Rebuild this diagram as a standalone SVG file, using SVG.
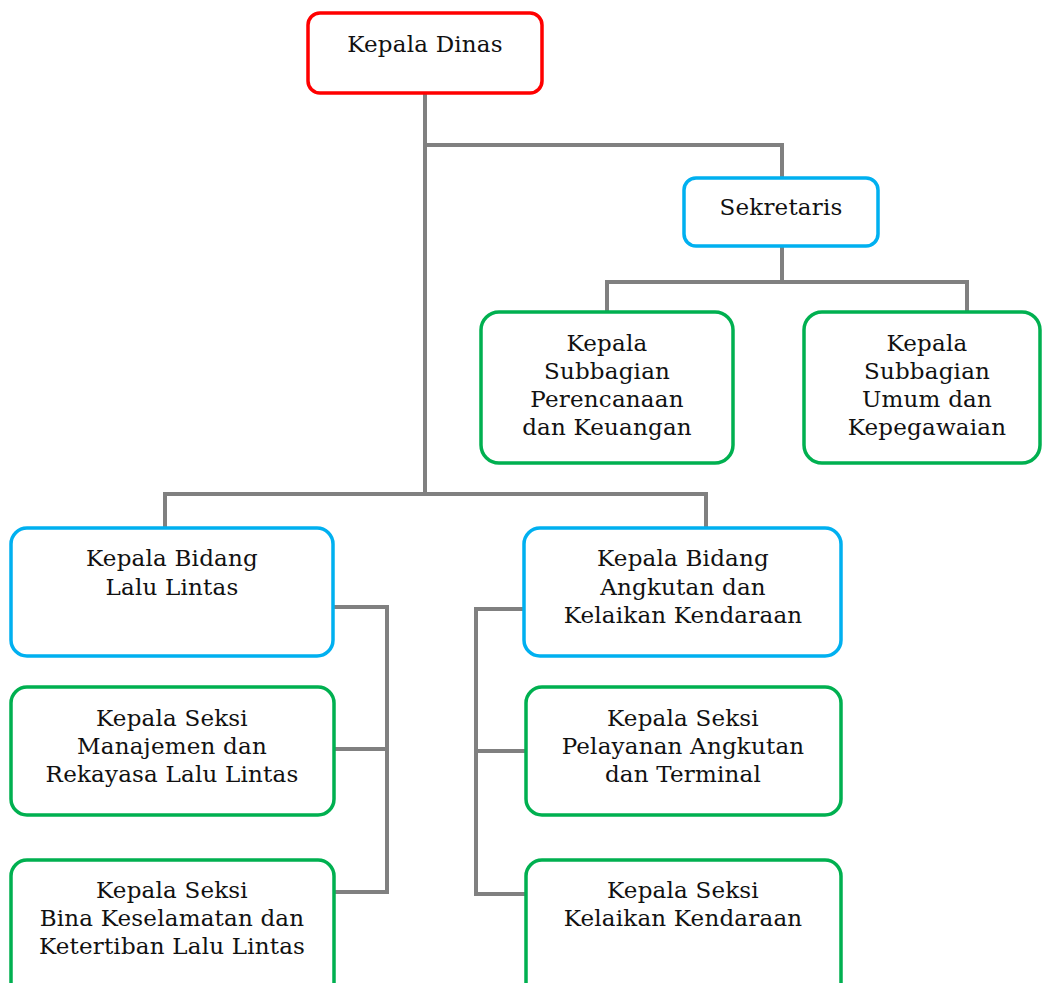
<svg xmlns="http://www.w3.org/2000/svg" width="1042" height="983" viewBox="0 0 1042 983">
<style>
.box{fill:#fff;stroke-width:3.5}
.red{stroke:#FF0000}
.blue{stroke:#00B0F0}
.green{stroke:#00B050}
.conn{fill:none;stroke:#808080;stroke-width:4;stroke-linejoin:miter}
text{font-family:"DejaVu Serif","Liberation Serif",serif;font-size:23px;fill:#111;text-anchor:middle;dominant-baseline:central;letter-spacing:0.2px}
</style>
<rect width="1042" height="983" fill="#fff"/>
<g id="connectors">
<path class="conn" d="M425 93V494M425 145H782V178"/>
<path class="conn" d="M782 246V282M607 312V282H967V312"/>
<path class="conn" d="M165 528V494H706V528"/>
<path class="conn" d="M333 607H387V892H334M334 749H387"/>
<path class="conn" d="M524 609H476V894H526M476 751H526"/>
</g>
<g id="kepala-dinas"><rect class="box red" x="308" y="13" width="234" height="80" rx="12"/><text x="425" y="44">Kepala Dinas</text></g>
<g id="sekretaris"><rect class="box blue" x="684" y="178" width="194" height="68" rx="12"/><text x="781" y="207">Sekretaris</text></g>
<g id="subbag-perencanaan"><rect class="box green" x="481" y="312" width="252" height="151" rx="18"/><text x="607" y="343">Kepala</text><text x="607" y="371">Subbagian</text><text x="607" y="399">Perencanaan</text><text x="607" y="427">dan Keuangan</text></g>
<g id="subbag-umum"><rect class="box green" x="804" y="312" width="236" height="151" rx="18"/><text x="927" y="343">Kepala</text><text x="927" y="371">Subbagian</text><text x="927" y="399">Umum dan</text><text x="927" y="427">Kepegawaian</text></g>
<g id="bidang-lalu-lintas"><rect class="box blue" x="11" y="528" width="322" height="128" rx="16"/><text x="172" y="558">Kepala Bidang</text><text x="172" y="587">Lalu Lintas</text></g>
<g id="bidang-angkutan"><rect class="box blue" x="524" y="528" width="317" height="128" rx="16"/><text x="683" y="558">Kepala Bidang</text><text x="683" y="587">Angkutan dan</text><text x="683" y="615">Kelaikan Kendaraan</text></g>
<g id="seksi-manajemen"><rect class="box green" x="11" y="687" width="323" height="128" rx="16"/><text x="172" y="718">Kepala Seksi</text><text x="172" y="746">Manajemen dan</text><text x="172" y="774">Rekayasa Lalu Lintas</text></g>
<g id="seksi-bina"><rect class="box green" x="11" y="860" width="323" height="140" rx="16"/><text x="172" y="890">Kepala Seksi</text><text x="172" y="918">Bina Keselamatan dan</text><text x="172" y="946">Ketertiban Lalu Lintas</text></g>
<g id="seksi-pelayanan"><rect class="box green" x="526" y="687" width="315" height="128" rx="16"/><text x="683" y="718">Kepala Seksi</text><text x="683" y="746">Pelayanan Angkutan</text><text x="683" y="774">dan Terminal</text></g>
<g id="seksi-kelaikan"><rect class="box green" x="526" y="860" width="315" height="140" rx="16"/><text x="683" y="890">Kepala Seksi</text><text x="683" y="918">Kelaikan Kendaraan</text></g>
</svg>
